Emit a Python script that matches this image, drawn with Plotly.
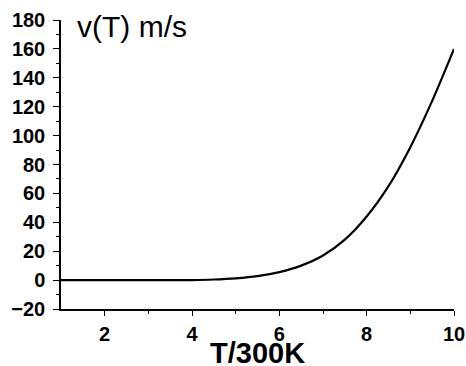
import plotly.graph_objects as go

T_vals = [1, 1.5, 2, 2.5, 3, 3.5, 4, 4.5, 5, 5.5, 6, 6.5, 7, 7.5, 8, 8.5, 9, 9.5, 10]
v_vals = [0, 0, 0, 0, 0, 0, 0.05, 0.4, 1.2, 2.7, 5.5, 10, 17, 28, 44, 65, 92, 124, 160]

x_tickvals = [2, 4, 6, 8, 10]
y_tickvals = [-20, 0, 20, 40, 60, 80, 100, 120, 140, 160, 180]
x_title = "T/300K"
y_title = "v(T) m/s"

fig = go.Figure()
fig.add_trace(go.Scatter(x=T_vals, y=v_vals, mode="lines",
                         line=dict(color="black", width=2.2, shape="spline", smoothing=0.8),
                         showlegend=False, hoverinfo="skip"))

axis_common = dict(showline=True, linecolor="black", linewidth=1.5, ticks="outside", tickcolor="black",
                   tickwidth=1, showgrid=False, zeroline=False, mirror=False, automargin=False,
                   tickfont=dict(family="Liberation Sans, Arial", size=20, color="black", weight="bold"))

fig.update_xaxes(range=[1, 10], tickvals=x_tickvals, ticklen=5, ticklabelstandoff=1,
                 minor=dict(tickvals=[3, 5, 7, 9], ticklen=3, ticks="outside", tickcolor="black", tickwidth=1),
                 **axis_common)
fig.update_yaxes(range=[-20, 180], tickvals=y_tickvals, ticklen=6, ticklabelstandoff=4,
                 minor=dict(dtick=10, tick0=0, ticklen=3, ticks="outside", tickcolor="black", tickwidth=1),
                 **axis_common)

fig.add_annotation(text=y_title, xref="paper", yref="paper", x=0.036, y=0.977, xanchor="left", yanchor="middle",
                   showarrow=False, font=dict(family="Liberation Sans, Arial", size=30, color="black"))
fig.add_annotation(text="<b>" + x_title + "</b>", xref="paper", yref="paper", x=0.5, y=0, yshift=-44,
                   xanchor="center", yanchor="middle", showarrow=False,
                   font=dict(family="Liberation Sans, Arial", size=29, color="black"))

fig.update_layout(width=466, height=366, margin=dict(l=61, r=12, t=20, b=57, autoexpand=False),
                  plot_bgcolor="white", paper_bgcolor="white")

fig.write_html("out.html", config={"displayModeBar": False},
               post_script="document.body.style.margin='0';document.body.style.overflow='hidden';")
